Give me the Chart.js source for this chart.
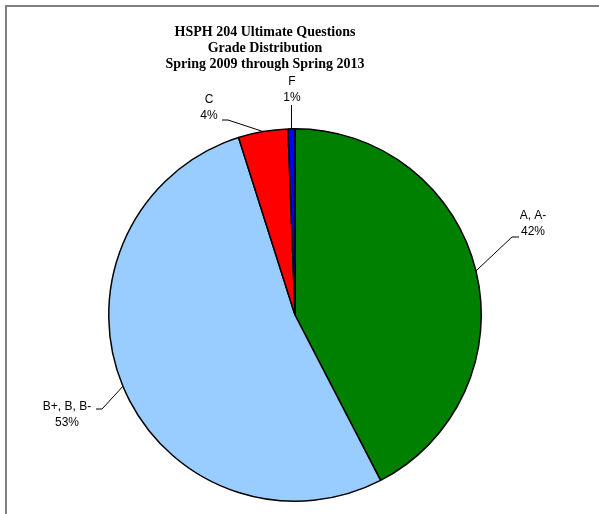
<!DOCTYPE html>
<html>
<head>
<meta charset="utf-8">
<script src="https://cdn.jsdelivr.net/npm/chart.js@4"></script>
<style>
  html, body { margin: 0; padding: 0; background: #fff; }
  #wrap { position: relative; width: 599px; height: 514px; }
</style>
</head>
<body>
<div id="wrap"><canvas id="gradepie"></canvas></div>
<script>
// Data
const grades = ['A, A-', 'B+, B, B-', 'C', 'F'];
const shares = [42.4, 52.7, 4.3, 0.6];
const sliceColors = ['#008000', '#99CCFF', '#FF0000', '#0000FF'];
const titleLines = ['HSPH 204 Ultimate Questions', 'Grade Distribution', 'Spring 2009 through Spring 2013'];

// where each label block sits and where its leader line bends
const labelSpots = [
  { x: 533, y: 216, elbow: [519, 237], end: [512, 237] },
  { x: 67,  y: 407, elbow: [96, 409],  end: [102, 409] },
  { x: 209, y: 100, elbow: [222, 120], end: [228, 120] },
  { x: 292, y: 82,  elbow: null,       end: null, topY: 105 }
];

// frame, title and labels with leader lines
const decorations = {
  id: 'decorations',
  beforeDraw(chart) {
    const ctx = chart.ctx;
    ctx.save();
    ctx.fillStyle = '#fff';
    ctx.fillRect(0, 0, chart.width, chart.height);
    ctx.strokeStyle = '#808080';
    ctx.lineWidth = 2;
    ctx.beginPath();
    ctx.moveTo(6, chart.height);
    ctx.lineTo(6, 6);
    ctx.lineTo(chart.width, 6);
    ctx.stroke();

    ctx.fillStyle = '#000';
    ctx.font = 'bold 14px "Liberation Serif", "Times New Roman", serif';
    ctx.textAlign = 'center';
    ctx.textBaseline = 'middle';
    titleLines.forEach((t, i) => ctx.fillText(t, 265, 32 + i * 16));
    ctx.restore();
  },
  afterDraw(chart) {
    const ctx = chart.ctx;
    const meta = chart.getDatasetMeta(0);
    const total = shares.reduce((a, b) => a + b, 0);
    ctx.save();
    ctx.strokeStyle = '#000';
    ctx.lineWidth = 1;
    ctx.fillStyle = '#000';
    ctx.font = '12px "Liberation Sans", Arial, sans-serif';
    ctx.textAlign = 'center';
    ctx.textBaseline = 'middle';
    meta.data.forEach((arc, i) => {
      const p = arc.getProps(['x', 'y', 'startAngle', 'endAngle', 'outerRadius'], true);
      const mid = (p.startAngle + p.endAngle) / 2;
      const ax = p.x + Math.cos(mid) * p.outerRadius;
      const ay = p.y + Math.sin(mid) * p.outerRadius;
      const spot = labelSpots[i];
      const end = spot.end || [ax, spot.topY];
      ctx.beginPath();
      ctx.moveTo(ax, ay);
      ctx.lineTo(end[0], end[1]);
      if (spot.elbow) ctx.lineTo(spot.elbow[0], spot.elbow[1]);
      ctx.stroke();
      const pct = Math.round(shares[i] / total * 100) + '%';
      ctx.fillText(grades[i], spot.x, spot.y);
      ctx.fillText(pct, spot.x, spot.y + 16);
    });
    ctx.restore();
  }
};

new Chart(document.getElementById('gradepie'), {
  type: 'pie',
  data: {
    labels: grades,
    datasets: [{
      data: shares,
      backgroundColor: sliceColors,
      borderColor: '#000',
      borderWidth: 1.5
    }]
  },
  options: {
    responsive: true,
    maintainAspectRatio: false,
    animation: false,
    layout: { padding: { left: 108, right: 117, top: 128, bottom: 12 } },
    plugins: {
      legend: { display: false },
      title: { display: false },
      tooltip: { enabled: false }
    }
  },
  plugins: [decorations]
});
</script>
</body>
</html>
